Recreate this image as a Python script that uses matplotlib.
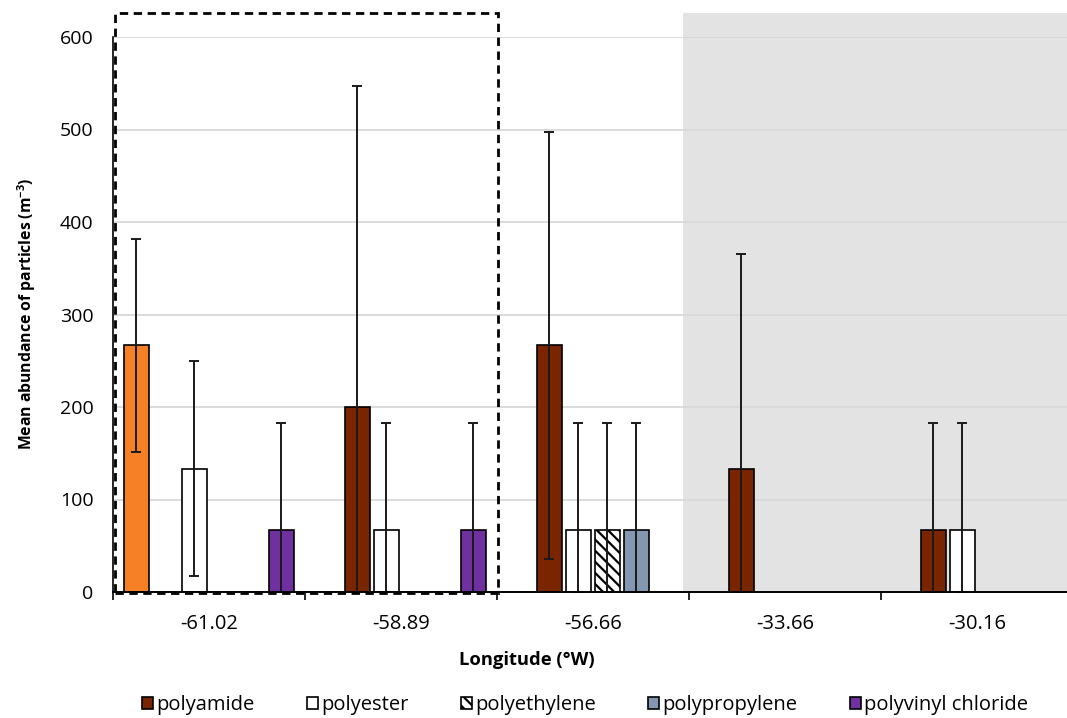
import matplotlib
matplotlib.use('Agg')
import matplotlib.pyplot as plt
import numpy as np
from matplotlib.patches import Rectangle

plt.rcParams['font.family'] = ['Open Sans', 'DejaVu Sans']
plt.rcParams['mathtext.default'] = 'regular'
plt.rcParams['hatch.linewidth'] = 1.6

# Data
longitudes = ['-61.02', '-58.89', '-56.66', '-33.66', '-30.16']
highlight = [266.67, 0, 0, 0, 0]            # orange bar, not in legend
highlight_err = [115, 0, 0, 0, 0]
polyamide = [0, 200, 266.67, 133.33, 66.67]
polyamide_err = [0, 347, 231, 232, 116]
polyester = [133.33, 66.67, 66.67, 0, 66.67]
polyester_err = [116, 116, 116, 0, 116]
polyethylene = [0, 0, 66.67, 0, 0]
polyethylene_err = [0, 0, 116, 0, 0]
polypropylene = [0, 0, 66.67, 0, 0]
polypropylene_err = [0, 0, 116, 0, 0]
pvc = [66.67, 66.67, 0, 0, 0]
pvc_err = [116, 116, 0, 0, 0]

series = [
    ('_nolegend_', highlight, highlight_err, '#F58025', None),
    ('polyamide', polyamide, polyamide_err, '#7B2400', None),
    ('polyester', polyester, polyester_err, 'white', None),
    ('polyethylene', polyethylene, polyethylene_err, 'white', '\\\\\\'),
    ('polypropylene', polypropylene, polypropylene_err, '#8497B0', None),
    ('polyvinyl chloride', pvc, pvc_err, '#7030A0', None),
]

W, H = 1067, 718
fig = plt.figure(figsize=(W / 100, H / 100), dpi=100)
ax = fig.add_axes([113 / W, 126 / H, 954 / W, 555 / H])

pitch = 29 / 192
width = 25 / 192
x = np.arange(len(longitudes))

# grey shaded region (last two longitudes) and dashed box (first two)
ax.add_patch(Rectangle((2.47, 0), 3, 626, facecolor='#e3e3e3', edgecolor='none',
                       zorder=0, clip_on=False))
ax.add_patch(Rectangle((-0.49, -1), 1.995, 627, facecolor='none', edgecolor='black',
                       linestyle=(0, (3, 2)), linewidth=2, zorder=5, clip_on=False))

handles = []
for k, (name, vals, errs, color, hatch) in enumerate(series):
    vals = np.array(vals, dtype=float)
    errs = np.array(errs, dtype=float)
    m = vals > 0
    pos = x + (k - 2.5) * pitch
    b = ax.bar(pos[m], vals[m], width, color=color, edgecolor='black', linewidth=1.2,
               hatch=hatch, label=name, zorder=3)
    lower = np.minimum(errs[m], vals[m])
    ax.errorbar(pos[m], vals[m], yerr=[lower, errs[m]], fmt='none', ecolor='#1a1a1a',
                elinewidth=1.4, capsize=3.4, capthick=1.4, zorder=4)
    if name != '_nolegend_':
        handles.append(b)

ax.set_ylim(0, 600)
ax.set_xlim(-0.5, 4.469)
ax.set_yticks(np.arange(0, 601, 100))
ax.yaxis.grid(True, color='#d9d9d9', linewidth=1.3, zorder=1)
ax.set_axisbelow(True)
ax.tick_params(axis='y', length=0, pad=14, labelsize=14)

ax.set_xticks(np.arange(-0.5, 4.0, 1.0))
ax.set_xticklabels([])
ax.set_xticks(x, minor=True)
ax.set_xticklabels(longitudes, minor=True)
ax.tick_params(axis='x', which='major', length=6, width=1.2, direction='out')
ax.tick_params(axis='x', which='minor', length=0, pad=16, labelsize=14.5)

for s in ['top', 'right']:
    ax.spines[s].set_visible(False)
ax.spines['left'].set_linewidth(1.2)
ax.spines['bottom'].set_linewidth(1.4)
ax.spines['left'].set_zorder(6)
ax.spines['bottom'].set_zorder(6)

fig.text(27 / W, 1 - 314 / H, 'Mean abundance of particles (m$^{-3}$)', rotation=90,
         ha='center', va='center', fontsize=11.3, fontweight='bold')
fig.text(527 / W, 1 - 660 / H, 'Longitude (°W)', ha='center', va='center',
         fontsize=13.2, fontweight='bold')

fig.legend(handles=handles, labels=[s[0] for s in series[1:]], loc='center',
           bbox_to_anchor=(585 / W, 1 - 705 / H), ncol=5, frameon=False, fontsize=14.5,
           handlelength=0.55, handleheight=0.55, handletextpad=0.15, columnspacing=2.6)

plt.savefig('out.png', dpi=100)
